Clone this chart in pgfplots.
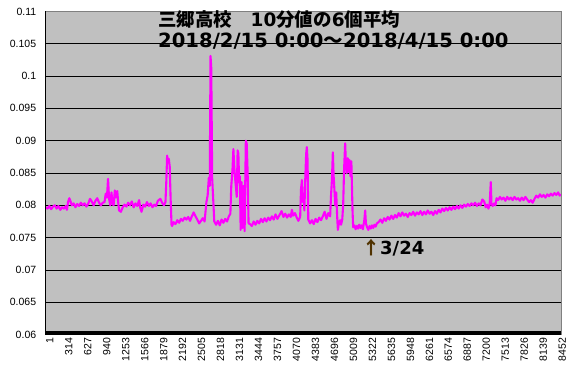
\documentclass[border=0pt]{standalone}
\usepackage{fontspec}
\setmainfont{Liberation Sans}
\newfontfamily\cjk{Noto Sans CJK JP}
\newfontfamily\dv{DejaVu Sans}
\usepackage{pgfplots}
\pgfplotsset{compat=1.18}
\definecolor{plotbg}{RGB}{192,192,192}
\definecolor{bordergray}{RGB}{128,128,128}
\definecolor{mag}{RGB}{255,0,255}
\definecolor{arrowbrown}{RGB}{80,50,0}
\begin{document}
\begin{tikzpicture}
\useasboundingbox (0,0) rectangle (567bp,378bp);
\begin{axis}[
  at={(45.7bp,43.4bp)}, anchor=south west,
  scale only axis, width=515.3bp, height=323.2bp,
  xmin=0, xmax=8497, ymin=0.06, ymax=0.11,
  axis background/.style={fill=plotbg},
  axis line style={draw=none},
  major tick length=0pt,
  xtick={1,314,...,8452},
  ytick={0.06,0.065,...,0.1051},
  extra y ticks={0.11},
  extra y tick style={grid=none},
  ymajorgrids,
  major grid style={black, line width=0.8bp},
  /pgf/number format/assume math mode=true,
  xticklabel style={font=\fontsize{10.5bp}{12bp}\selectfont, rotate=90, anchor=east, xshift=0bp, yshift=-4bp, /pgf/number format/1000 sep={}},
  yticklabel style={font=\fontsize{10.5bp}{12bp}\selectfont, anchor=east, xshift=-6bp, /pgf/number format/.cd, fixed, precision=3},
  clip=false,
]
\addplot[mag, line width=2.1bp, line join=round] coordinates {
(1,0.0797)(30,0.0795)(60,0.0799)(90,0.0794)(120,0.0798)(150,0.0800)(180,0.0795)(210,0.0799)(240,0.0793)(270,0.0797)(300,0.0795)(330,0.0799)(350,0.0793)(369,0.0805)(390,0.0811)(410,0.0806)(430,0.0800)(460,0.0803)(490,0.0797)(520,0.0802)(550,0.0799)(580,0.0804)(610,0.0800)(640,0.0803)(670,0.0798)(700,0.0802)(730,0.0810)(760,0.0806)(790,0.0800)(820,0.0807)(850,0.0811)(880,0.0804)(910,0.0800)(940,0.0804)(970,0.0805)(990,0.0818)(1010,0.0812)(1028,0.0841)(1045,0.0810)(1065,0.0800)(1085,0.0820)(1100,0.0803)(1120,0.0800)(1140,0.0823)(1160,0.0812)(1180,0.0822)(1195,0.0805)(1210,0.0792)(1240,0.0790)(1270,0.0797)(1300,0.0801)(1330,0.0798)(1360,0.0804)(1390,0.0800)(1420,0.0806)(1450,0.0797)(1480,0.0803)(1510,0.0799)(1540,0.0808)(1560,0.0796)(1580,0.0790)(1610,0.0801)(1640,0.0798)(1670,0.0805)(1700,0.0799)(1730,0.0803)(1760,0.0797)(1790,0.0801)(1820,0.0799)(1850,0.0807)(1890,0.0810)(1920,0.0804)(1950,0.0800)(1975,0.0805)(1990,0.0840)(2002,0.0877)(2015,0.0866)(2030,0.0872)(2045,0.0860)(2060,0.0810)(2075,0.0770)
(2084,0.0768)(2110,0.0774)(2140,0.0771)(2170,0.0777)(2200,0.0773)(2230,0.0779)(2260,0.0776)(2290,0.0781)(2320,0.0778)(2350,0.0782)(2380,0.0776)(2410,0.0783)(2440,0.0789)(2470,0.0783)(2500,0.0778)(2530,0.0772)(2560,0.0776)(2590,0.0780)(2620,0.0775)(2650,0.0805)(2670,0.0815)(2690,0.0843)(2705,0.0830)(2718,0.1031)(2730,0.1012)(2745,0.0842)(2780,0.0775)
(2810,0.0770)(2840,0.0776)(2870,0.0769)(2900,0.0778)(2930,0.0773)(2960,0.0779)(2990,0.0775)(3020,0.0783)(3045,0.0787)(3060,0.0830)(3080,0.0855)(3095,0.0887)(3110,0.0858)(3125,0.0840)(3140,0.0825)(3150,0.0813)(3165,0.0885)(3177,0.0880)(3190,0.0835)(3200,0.0845)(3215,0.0762)(3230,0.0836)(3245,0.0765)(3260,0.0830)(3280,0.0760)(3300,0.0900)(3315,0.0895)(3330,0.0850)(3345,0.0772)
(3370,0.0771)(3400,0.0768)(3430,0.0775)(3460,0.0770)(3490,0.0776)(3520,0.0772)(3550,0.0779)(3580,0.0774)(3610,0.0780)(3640,0.0775)(3670,0.0781)(3700,0.0777)(3730,0.0783)(3760,0.0778)(3790,0.0786)(3820,0.0779)(3850,0.0784)(3890,0.0791)(3920,0.0782)(3950,0.0787)(3980,0.0781)(4010,0.0786)(4040,0.0782)(4060,0.0793)(4080,0.0784)(4110,0.0788)(4140,0.0781)(4166,0.0776)
(4196,0.0782)(4210,0.0825)(4225,0.0839)(4240,0.0805)(4255,0.0815)(4265,0.0792)(4280,0.0840)(4295,0.0880)(4306,0.0890)(4318,0.0870)(4330,0.0778)(4360,0.0772)(4390,0.0777)(4420,0.0771)(4450,0.0779)(4480,0.0774)(4510,0.0781)(4540,0.0777)(4570,0.0783)(4600,0.0790)(4630,0.0779)(4660,0.0788)(4690,0.0783)(4705,0.0815)(4720,0.0840)(4735,0.0882)(4748,0.0845)(4760,0.0825)(4775,0.0800)(4790,0.0820)(4805,0.0785)(4818,0.0762)(4835,0.0773)(4855,0.0777)(4870,0.0770)(4890,0.0778)(4905,0.0800)(4920,0.0855)(4938,0.0896)(4950,0.0865)(4965,0.0850)(4980,0.0873)(4995,0.0852)(5010,0.0870)(5025,0.0845)(5040,0.0868)(5060,0.0790)(5070,0.0766)
(5090,0.0769)(5110,0.0763)(5130,0.0768)(5150,0.0764)(5170,0.0770)(5190,0.0765)(5210,0.0769)(5230,0.0763)(5255,0.0778)(5268,0.0792)(5280,0.0772)(5300,0.0766)(5320,0.0762)(5340,0.0768)(5360,0.0764)(5380,0.0769)(5400,0.0765)(5420,0.0770)(5440,0.0767)(5460,0.0772)(5490,0.0774)(5520,0.0778)(5550,0.0773)(5580,0.0780)(5610,0.0776)(5640,0.0782)(5670,0.0778)(5700,0.0784)(5730,0.0779)(5760,0.0785)(5790,0.0781)(5820,0.0788)(5850,0.0783)(5880,0.0789)(5910,0.0784)(5940,0.0787)(5970,0.0782)(6000,0.0788)(6030,0.0785)(6060,0.0790)(6090,0.0784)(6120,0.0789)(6150,0.0786)(6180,0.0791)(6210,0.0785)(6240,0.0790)(6270,0.0786)(6300,0.0792)
(6330,0.0787)(6360,0.0790)(6390,0.0785)(6420,0.0791)(6450,0.0787)(6480,0.0793)(6510,0.0789)(6540,0.0795)(6570,0.0791)(6600,0.0796)(6630,0.0792)(6660,0.0797)(6690,0.0793)(6720,0.0798)(6750,0.0794)(6780,0.0799)(6810,0.0795)(6840,0.0800)(6870,0.0796)(6900,0.0801)(6930,0.0798)(6960,0.0802)(6990,0.0799)(7020,0.0803)(7050,0.0800)(7080,0.0804)(7110,0.0799)(7140,0.0803)(7170,0.0800)(7200,0.0809)(7230,0.0806)(7255,0.0797)(7280,0.0801)(7300,0.0795)(7320,0.0800)(7339,0.0836)(7350,0.0803)(7370,0.0799)(7395,0.0803)(7415,0.0800)(7435,0.0811)(7460,0.0808)(7490,0.0813)(7520,0.0809)(7550,0.0812)(7580,0.0807)(7610,0.0813)(7640,0.0809)(7670,0.0812)(7700,0.0808)(7730,0.0813)(7760,0.0809)(7790,0.0811)(7820,0.0807)(7850,0.0812)(7880,0.0808)(7910,0.0813)(7940,0.0809)(7970,0.0805)(8000,0.0808)(8030,0.0804)(8060,0.0810)(8090,0.0815)(8120,0.0812)(8150,0.0817)(8180,0.0813)(8210,0.0816)(8240,0.0812)(8270,0.0817)(8300,0.0814)(8330,0.0818)(8360,0.0815)(8390,0.0819)(8420,0.0816)(8450,0.0820)(8475,0.0815)(8496,0.0817)
};
\draw[bordergray, line width=0.8bp] (rel axis cs:0,1) -- (rel axis cs:1,1) -- (rel axis cs:1,0);
\draw[black, line width=0.8bp] (rel axis cs:0,0) -- (rel axis cs:0,1);
\fill[black] (rel axis cs:0,0) rectangle ([yshift=3.6bp]rel axis cs:1,0);
\end{axis}
\node[anchor=base west, inner sep=0pt, font=\fontsize{18.5bp}{20bp}\selectfont\bfseries] at (158bp,351.5bp)
  {{\cjk 三郷高校　}{\dv 10}{\cjk 分値の}{\dv 6}{\cjk 個平均}};
\node[anchor=base west, inner sep=0pt, font=\fontsize{19.6bp}{21bp}\selectfont\bfseries] at (158bp,330.3bp)
  {{\dv 2018/2/15 0:00}{\cjk ～}{\dv 2018/4/15 0:00}};
\node[anchor=base west, inner sep=0pt, font=\fontsize{18bp}{20bp}\selectfont\bfseries] at (362bp,123.7bp)
  {{\cjk\color{arrowbrown}↑}{\dv 3/24}};
\end{tikzpicture}
\end{document}
